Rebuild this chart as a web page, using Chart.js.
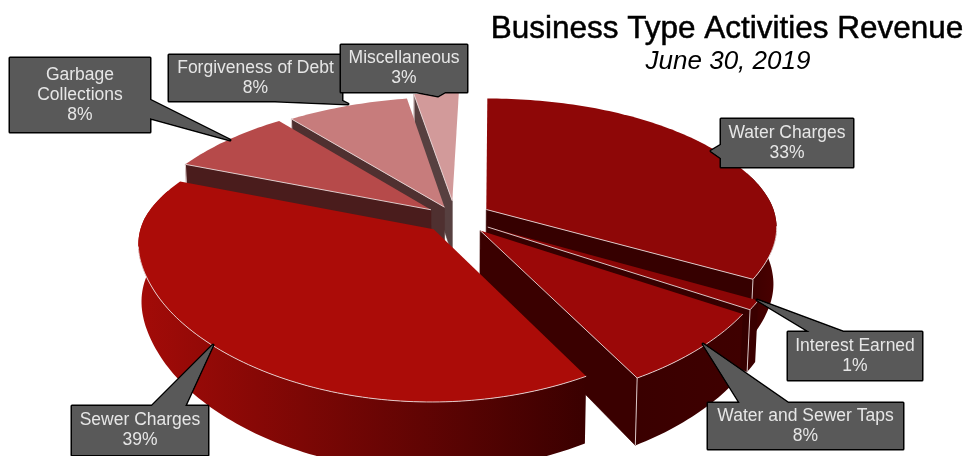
<!DOCTYPE html>
<html>
<head>
<meta charset="utf-8">
<title>Business Type Activities Revenue</title>
<style>
  html, body { margin: 0; padding: 0; background: #fff; }
  canvas { display: block; }
</style>
<script src="https://cdn.jsdelivr.net/npm/chart.js@4/dist/chart.umd.js"></script>
</head>
<body>
<canvas id="revenue" width="974" height="456"></canvas>
<script>
// Revenue shares, percent of total, clockwise from twelve o'clock
const categories = ['Water Charges', 'Interest Earned', 'Water and Sewer Taps', 'Sewer Charges',
                    'Garbage Collections', 'Forgiveness of Debt', 'Miscellaneous'];
const shares = [33, 1, 8, 39, 8, 8, 3];

// Slice styling
const topColors  = ['#8e0707', '#8c0606', '#9b0808', '#ab0c08', '#b64a4a', '#c77c7c', '#d29a9a'];
const wallColors = ['#360000', '#360000', '#3a0000', '#3a0000', '#4a1c1c', '#4f3030', '#574040'];
const rimLeft    = ['#3a0000', '#3a0000', '#3a0000', '#a30b08', '#4a1c1c', '#4f3030', '#574040'];
const rimRight   = ['#4a0000', '#3a0000', '#3f0000', '#3a0000', '#4a1c1c', '#4f3030', '#574040'];
const explode    = [25, 26, 25, 22, 21, 18, 26];

// Perspective of the tilted disc
const TILT = { radiusX: 290, radiusY: 135, depth: 55, nearX: 0.10, farX: 0.19, k: 0.19, baseShrink: 0.99, skew: 6 };

function project(cx, cy, u, v, lowered) {
  const w = 1 - TILT.k * v;
  // Horizontal foreshortening eases from the far value to the near value across the disc
  const t = Math.min(1, Math.max(0, (v + 0.5) / 1));
  const blend = t * t * (3 - 2 * t);
  const wx = 1 - (TILT.farX + (TILT.nearX - TILT.farX) * blend) * v;
  let px = TILT.radiusX * u / wx + TILT.skew * Math.max(0, -v);
  let py = TILT.radiusY * v / w;
  if (lowered) { px *= TILT.baseShrink; py += TILT.depth / w; }
  return [cx + px, cy + py];
}

// Pie slice drawn as a solid wedge of the tilted disc
class SolidArc extends Chart.ArcElement {
  static id = 'solidArc';
  static defaults = { wallColor: '#300', rimFrom: '#300', rimTo: '#300' };

  draw(ctx) {
    const { x, y, startAngle, endAngle, outerRadius } = this.getProps(['x', 'y', 'startAngle', 'endAngle', 'outerRadius']);
    const o = this.options;
    const mid = (startAngle + endAngle) / 2;
    const du = Math.cos(mid) * o.offset / outerRadius;
    const dv = Math.sin(mid) * o.offset / outerRadius;
    const at = (a, r, low) => project(x, y, du + r * Math.cos(a), dv + r * Math.sin(a), low);
    const steps = Math.max(4, Math.ceil((endAngle - startAngle) / 0.02));
    const rimAngles = [];
    for (let i = 0; i <= steps; i++) rimAngles.push(startAngle + (endAngle - startAngle) * i / steps);
    const path = pts => { ctx.beginPath(); pts.forEach((p, i) => i ? ctx.lineTo(p[0], p[1]) : ctx.moveTo(p[0], p[1])); };

    ctx.save();
    ctx.lineJoin = 'round';
    const edge = '#ead9d9';

    // Curved outer wall, skipped on the far side of the disc
    const rimTop = rimAngles.map(a => at(a, 1, false));
    const wallAngles = rimAngles.filter(a => Math.sin(a) > -0.3);
    if (wallAngles.length > 1) {
      const wallTop = wallAngles.map(a => at(a, 1, false));
      const wallLow = wallAngles.map(a => at(a, 1, true));
      const xs = wallTop.map(p => p[0]);
      const shade = ctx.createLinearGradient(Math.min(...xs), 0, Math.max(...xs), 0);
      shade.addColorStop(0, o.rimFrom);
      shade.addColorStop(1, o.rimTo);
      path(wallTop.concat(wallLow.slice().reverse()));
      ctx.closePath();
      ctx.fillStyle = shade;
      ctx.fill();
    }

    // Flat cut walls, only those turned towards the viewer
    const cutWall = a => {
      path([at(a, 0, false), at(a, 1, false), at(a, 1, true), at(a, 0, true)]);
      ctx.closePath();
      ctx.fillStyle = o.wallColor;
      ctx.fill();
      ctx.strokeStyle = o.wallColor;
      ctx.lineWidth = 0.6;
      ctx.stroke();
      path([at(a, 1, false), at(a, 1, true)]);
      ctx.strokeStyle = edge;
      ctx.lineWidth = 0.9;
      ctx.stroke();
    };
    const startVisible = -Math.cos(startAngle) > 0.001;
    const endVisible = Math.cos(endAngle) > 0.001;
    if (startVisible) cutWall(startAngle);
    if (endVisible) cutWall(endAngle);

    // Top face
    const face = [at(0, 0, false)].concat(rimTop);
    path(face);
    ctx.closePath();
    ctx.fillStyle = o.backgroundColor;
    ctx.fill();

    // Light highlights along edges that border a visible wall
    ctx.strokeStyle = edge;
    ctx.lineWidth = 0.9;
    if (startVisible) { path([at(0, 0, false), at(startAngle, 1, false)]); ctx.stroke(); }
    if (endVisible) { path([at(0, 0, false), at(endAngle, 1, false)]); ctx.stroke(); }
    const front = rimAngles.filter(a => Math.sin(a) > 0.12).map(a => at(a, 1, false));
    if (front.length > 1) { path(front); ctx.stroke(); }
    ctx.restore();
  }
}

// Doughnut controller that paints slices from the back of the disc to the front
class SolidPieController extends Chart.DoughnutController {
  static id = 'solidPie';
  static defaults = { dataElementType: 'solidArc' };

  draw() {
    const ctx = this._ctx;
    const depthOf = el => Math.sin((el.startAngle + el.endAngle) / 2);
    this._cachedMeta.data.slice().sort((a, b) => depthOf(a) - depthOf(b)).forEach(el => el.draw(ctx));
  }
}

Chart.register(SolidArc, SolidPieController);

// Callout boxes: label lines, box rectangle and pointer wedge
const callouts = [
  { lines: ['Water Charges'], box: [721, 119, 132, 48], base: [[721, 145], [721, 158]], tip: [711, 151] },
  { lines: ['Interest Earned'], box: [788, 332, 134, 48], base: [[810, 332], [843, 332]], tip: [757, 300] },
  { lines: ['Water and Sewer Taps'], box: [708, 403, 195, 46], base: [[740, 403], [788, 403]], tip: [703, 344] },
  { lines: ['Sewer Charges'], box: [72, 406, 136, 49], base: [[152, 406], [185, 406]], tip: [213, 345] },
  { lines: ['Garbage', 'Collections'], box: [10, 58, 140, 74], base: [[150, 100], [150, 118]], tip: [230, 140] },
  { lines: ['Forgiveness of Debt'], box: [169, 55, 173, 46], base: [[275, 101], [342, 101]], tip: [348, 104] },
  { lines: ['Miscellaneous'], box: [341, 45, 126, 47], base: [[417, 92], [445, 92]], tip: [438, 96] }
];

const calloutPlugin = {
  id: 'callouts',
  afterDatasetsDraw(chart) {
    const ctx = chart.ctx;
    ctx.save();
    ctx.font = '17.5px "Liberation Sans", Arial, sans-serif';
    ctx.textAlign = 'center';
    ctx.textBaseline = 'middle';
    callouts.forEach((c, i) => {
      const [bx, by, bw, bh] = c.box;
      const wedge = () => {
        ctx.moveTo(c.base[0][0], c.base[0][1]);
        ctx.lineTo(c.tip[0], c.tip[1]);
        ctx.lineTo(c.base[1][0], c.base[1][1]);
        ctx.closePath();
      };
      ctx.beginPath();
      ctx.rect(bx, by, bw, bh);
      wedge();
      ctx.lineWidth = 3;
      ctx.lineJoin = 'round';
      ctx.strokeStyle = '#000';
      ctx.stroke();
      ctx.fillStyle = '#595959';
      ctx.fill();
      ctx.beginPath();
      wedge();
      ctx.fill();
      const rows = c.lines.concat(shares[i] + '%');
      const cx = bx + bw / 2;
      const top = by + bh / 2 - (rows.length - 1) * 10;
      ctx.fillStyle = '#e6e6e6';
      rows.forEach((r, j) => ctx.fillText(r, cx, top + j * 20));
    });
    ctx.restore();
  }
};

const headingPlugin = {
  id: 'heading',
  afterDraw(chart) {
    const ctx = chart.ctx;
    ctx.save();
    ctx.textAlign = 'center';
    ctx.textBaseline = 'alphabetic';
    ctx.fillStyle = '#000';
    ctx.strokeStyle = '#000';
    ctx.lineWidth = 0.5;
    ctx.font = '31.5px "Liberation Sans", Arial, sans-serif';
    ctx.fillText('Business Type Activities Revenue', 727, 38);
    ctx.strokeText('Business Type Activities Revenue', 727, 38);
    ctx.font = 'italic 26px "Liberation Sans", Arial, sans-serif';
    ctx.fillText('June 30, 2019', 728, 69);
    ctx.restore();
  }
};

new Chart(document.getElementById('revenue'), {
  type: 'solidPie',
  data: {
    labels: categories,
    datasets: [{
      data: shares,
      backgroundColor: topColors,
      wallColor: wallColors,
      rimFrom: rimLeft,
      rimTo: rimRight,
      offset: explode,
      borderWidth: 0,
      clip: false
    }]
  },
  options: {
    responsive: false,
    animation: false,
    radius: 200,
    cutout: 0,
    layout: { padding: { right: 64, bottom: 20 } },
    plugins: { legend: { display: false }, tooltip: { enabled: false } }
  },
  plugins: [calloutPlugin, headingPlugin]
});
</script>
</body>
</html>
